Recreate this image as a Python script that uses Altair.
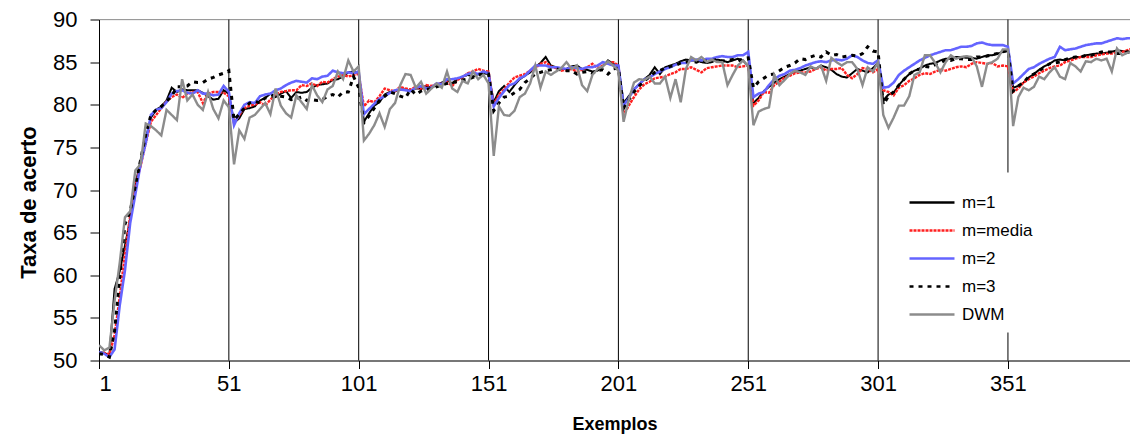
import altair as alt
import pandas as pd

# accuracy (%) sampled every second example: x = 1, 3, 5, ..., 399
x_vals = list(range(1, 400, 2))

m1 = [
    51.0, 50.9, 50.6, 58.4, 60.5, 63.5, 66.5, 70.5, 73.5, 76.0, 78.5, 79.4, 79.8, 80.5, 82.0, 81.5, 81.8, 81.7, 81.7, 81.7, 81.4, 81.0, 80.6, 80.7, 81.7,
    81.3, 77.9, 78.4, 79.5, 79.6, 79.8, 80.5, 80.8, 81.3, 80.9, 81.3, 81.6, 80.8, 81.5, 81.4, 81.5, 82.0, 82.3, 82.4, 82.5, 82.9, 83.0, 83.3, 83.8, 83.9,
    83.7, 78.0, 79.0, 79.9, 80.3, 81.2, 81.5, 81.6, 81.8, 81.8, 81.6, 81.9, 81.9, 82.2, 82.0, 82.3, 82.6, 82.9, 82.5, 83.0, 83.3, 83.5, 83.3, 83.6, 83.7,
    83.6, 80.3, 81.6, 82.2, 81.5, 82.3, 83.0, 83.4, 83.8, 84.4, 84.9, 85.6, 84.6, 84.4, 84.2, 84.2, 84.5, 84.6, 84.2, 84.1, 83.9, 84.0, 84.5, 85.2, 84.8,
    84.5, 80.2, 81.0, 81.8, 82.4, 83.0, 83.5, 84.4, 83.6, 84.4, 84.6, 84.8, 85.1, 85.3, 85.2, 85.2, 85.0, 84.9, 85.0, 85.3, 85.2, 85.0, 85.2, 85.4, 85.2,
    84.5, 80.2, 80.8, 81.6, 82.1, 82.6, 83.0, 83.3, 83.6, 83.9, 84.0, 84.2, 84.4, 84.2, 84.6, 84.4, 84.1, 83.6, 83.3, 83.2, 83.7, 84.2, 84.0, 83.8, 84.3,
    84.9, 80.5, 81.2, 81.4, 82.3, 83.0, 83.6, 84.0, 84.2, 84.6, 84.8, 84.9, 85.2, 85.4, 85.4, 85.6, 85.6, 85.5, 85.5, 85.4, 85.6, 85.8, 85.8, 86.0, 86.2,
    86.3, 82.0, 82.2, 82.6, 83.2, 83.6, 84.1, 84.5, 84.8, 85.2, 85.3, 85.2, 85.4, 85.6, 85.6, 85.8, 85.9, 86.0, 86.0, 86.1, 86.2, 86.4, 86.3, 86.2, 86.2,
]

m_media = [
    50.8, 50.9, 50.7, 53.0, 57.5, 62.5, 67.0, 70.5, 72.8, 75.5, 78.0, 78.8, 79.6, 80.4, 80.9, 81.2, 80.8, 81.3, 81.5, 81.5, 80.2, 81.3, 81.5, 81.5, 81.4,
    81.0, 77.8, 78.8, 79.6, 79.9, 80.0, 80.3, 79.9, 80.6, 81.2, 81.5, 81.6, 81.7, 81.7, 82.3, 82.2, 82.5, 82.2, 82.7, 82.6, 83.0, 83.3, 83.5, 83.3, 83.5,
    83.6, 79.8, 80.5, 80.3, 81.0, 81.9, 81.7, 81.6, 82.1, 81.9, 81.8, 82.1, 81.8, 82.3, 82.2, 82.4, 82.5, 82.7, 82.2, 82.9, 83.2, 83.7, 83.9, 84.2, 84.0,
    83.9, 80.0, 81.2, 81.8, 82.6, 83.2, 83.4, 83.6, 84.0, 84.3, 84.8, 85.0, 84.5, 84.3, 84.0, 84.1, 84.2, 83.9, 84.1, 84.4, 84.8, 84.3, 84.6, 85.0, 85.0,
    84.6, 78.8, 79.9, 80.9, 81.8, 82.4, 82.7, 83.1, 83.2, 83.3, 83.6, 83.8, 84.2, 84.2, 84.4, 84.1, 83.8, 84.3, 84.4, 84.5, 84.6, 84.6, 84.6, 84.4, 84.5,
    84.6, 79.9, 80.5, 81.5, 81.4, 82.3, 82.7, 83.2, 83.4, 83.7, 83.8, 83.8, 83.9, 84.2, 84.4, 84.0, 84.2, 84.2, 84.3, 83.5, 83.1, 83.6, 84.3, 84.2, 83.8,
    84.2, 81.7, 81.5, 81.1, 82.0, 82.3, 82.8, 83.1, 83.5, 83.7, 83.6, 83.9, 84.1, 84.0, 84.2, 84.4, 84.5, 84.4, 84.8, 85.0, 84.9, 84.8, 84.9, 84.5, 84.6,
    84.5, 81.5, 81.9, 82.6, 83.0, 83.3, 83.7, 84.0, 84.3, 84.5, 84.6, 85.0, 85.2, 85.4, 85.6, 85.6, 85.6, 85.8, 85.9, 86.0, 86.0, 86.1, 86.2, 86.4, 86.6,
]

m2 = [
    51.0, 50.8, 50.4, 51.3, 56.5, 60.6, 66.1, 69.5, 73.0, 75.5, 78.8, 79.4, 79.6, 80.3, 81.3, 81.6, 81.7, 81.4, 81.3, 81.7, 81.3, 81.3, 81.1, 81.2, 82.2,
    81.5, 77.6, 79.0, 80.0, 80.3, 80.2, 81.0, 81.2, 81.3, 81.7, 81.9, 82.3, 82.6, 82.8, 82.7, 82.6, 83.1, 83.0, 83.3, 83.4, 84.0, 83.8, 83.7, 83.8, 83.7,
    83.9, 78.9, 79.5, 80.1, 80.7, 81.0, 81.4, 81.7, 81.8, 81.7, 81.6, 82.0, 82.2, 81.9, 82.0, 82.5, 82.4, 83.0, 83.0, 83.1, 83.3, 83.6, 83.8, 83.6, 83.9,
    83.7, 79.8, 80.8, 81.6, 82.3, 82.5, 83.1, 83.4, 84.0, 84.6, 84.6, 84.6, 84.4, 84.4, 84.3, 84.2, 84.4, 84.3, 84.2, 84.4, 84.4, 84.6, 85.0, 84.8, 84.6,
    84.6, 79.9, 80.8, 81.8, 82.4, 83.0, 83.2, 83.6, 83.9, 84.2, 84.4, 84.7, 84.9, 84.9, 85.2, 85.3, 85.2, 85.4, 85.4, 85.6, 85.7, 85.6, 85.6, 85.8, 85.8,
    86.2, 80.9, 81.3, 81.5, 82.3, 83.0, 83.4, 83.6, 84.0, 84.1, 84.3, 84.6, 84.8, 85.0, 85.1, 85.0, 85.2, 85.3, 85.2, 85.4, 85.8, 85.6, 85.2, 84.9, 84.8,
    85.2, 82.0, 82.1, 82.6, 83.5, 84.0, 84.4, 84.8, 85.2, 85.5, 85.8, 86.0, 86.2, 86.4, 86.4, 86.6, 86.8, 86.8, 86.9, 87.2, 87.3, 87.1, 87.0, 87.0, 87.0,
    86.8, 82.5, 83.0, 83.6, 84.2, 84.4, 84.8, 85.1, 85.4, 85.6, 86.8, 86.4, 86.5, 86.6, 86.8, 87.0, 87.1, 87.2, 87.2, 87.4, 87.6, 87.8, 87.7, 87.8, 87.8,
]

m3 = [
    50.8, 50.7, 50.4, 53.5, 59.8, 66.0, 67.5, 70.5, 73.5, 76.5, 78.8, 79.4, 79.8, 80.4, 81.0, 82.1, 82.1, 82.2, 82.7, 82.6, 82.6, 83.0, 83.2, 83.5, 83.7,
    84.0, 78.2, 78.9, 79.6, 80.2, 80.4, 80.2, 80.8, 80.9, 81.1, 81.0, 80.9, 80.6, 80.7, 80.9, 80.5, 80.6, 80.5, 80.6, 81.0, 81.2, 80.9, 81.5, 81.5, 83.3,
    82.0, 77.9, 78.7, 79.6, 80.5, 81.0, 81.5, 81.3, 81.0, 80.8, 81.8, 81.2, 81.6, 81.8, 81.9, 82.1, 82.3, 82.5, 82.6, 82.7, 82.9, 83.0, 83.2, 83.5, 83.6,
    83.6, 79.3, 80.2, 80.9, 81.0, 81.4, 81.8, 82.6, 83.1, 83.6, 83.8, 84.0, 84.1, 84.2, 84.1, 84.0, 84.0, 83.6, 83.8, 83.9, 83.7, 84.0, 84.1, 83.6, 84.2,
    84.3, 79.6, 80.6, 81.5, 82.2, 82.8, 83.3, 83.8, 84.0, 84.3, 84.5, 84.6, 84.9, 85.0, 85.1, 85.0, 85.2, 85.1, 85.2, 85.3, 85.1, 85.2, 85.3, 85.1, 85.4,
    85.5, 82.0, 82.7, 83.1, 83.5, 83.6, 84.0, 84.4, 84.6, 84.9, 85.4, 85.3, 85.6, 85.8, 85.6, 86.2, 85.8, 85.9, 85.6, 85.7, 85.8, 85.7, 86.0, 86.8, 86.3,
    86.2, 80.0, 81.0, 81.5, 82.3, 83.0, 83.6, 84.0, 84.2, 84.5, 84.4, 84.7, 84.9, 85.3, 85.2, 85.4, 85.4, 85.3, 85.3, 85.6, 85.6, 85.7, 85.9, 86.0, 86.2,
    86.4, 81.6, 82.2, 82.6, 83.3, 83.6, 84.0, 84.4, 84.8, 84.9, 85.0, 85.3, 85.5, 85.6, 85.6, 85.8, 85.8, 86.0, 86.2, 86.2, 86.2, 86.0, 86.0, 86.2, 86.1,
]

dwm = [
    51.8, 51.2, 51.5, 57.0, 61.5, 66.8, 67.5, 72.3, 73.0, 77.8, 77.5, 77.0, 76.4, 79.4, 78.8, 78.2, 83.0, 80.5, 81.2, 80.0, 79.4, 81.5, 79.5, 78.4, 80.5,
    79.7, 73.0, 77.0, 76.0, 78.5, 78.8, 79.5, 80.2, 78.9, 81.9, 79.9, 79.0, 78.5, 81.1, 80.3, 79.5, 82.3, 81.1, 80.3, 81.8, 82.2, 83.9, 83.0, 85.2, 83.9,
    84.5, 75.8, 76.6, 77.6, 79.0, 77.4, 79.5, 80.2, 82.3, 83.6, 83.5, 82.0, 82.7, 81.3, 81.9, 82.5, 82.0, 83.9, 81.9, 81.5, 82.8, 82.5, 83.9, 83.0, 83.5,
    82.5, 74.0, 79.8, 78.8, 78.7, 79.3, 80.9, 81.3, 82.5, 84.6, 82.0, 83.9, 83.5, 83.9, 84.3, 85.0, 84.2, 84.6, 82.3, 81.6, 83.5, 84.2, 84.5, 85.1, 84.6,
    84.0, 78.0, 80.6, 82.6, 83.0, 82.9, 83.3, 82.5, 82.5, 83.3, 80.8, 83.0, 80.3, 84.2, 85.6, 85.2, 85.6, 85.0, 85.3, 85.0, 85.0, 82.3, 83.5, 84.6, 85.2,
    84.5, 77.6, 79.2, 79.5, 79.7, 83.5, 82.3, 82.9, 83.6, 84.0, 83.8, 83.5, 84.5, 84.2, 84.6, 82.8, 85.5, 85.0, 84.6, 85.0, 85.0, 84.2, 82.3, 84.4, 83.9,
    85.0, 78.8, 77.3, 78.5, 79.9, 79.9, 81.0, 83.5, 83.8, 85.8, 85.8, 84.9, 83.8, 85.0, 85.8, 85.4, 85.6, 85.7, 85.6, 84.5, 82.1, 84.8, 85.0, 85.4, 86.5,
    86.5, 77.5, 80.9, 82.0, 81.7, 82.1, 83.3, 83.0, 83.8, 84.4, 83.3, 83.0, 84.9, 84.5, 83.9, 85.1, 85.0, 85.4, 85.2, 85.4, 83.9, 86.6, 85.8, 86.1, 86.2,
]

series_names = ["m=1", "m=media", "m=2", "m=3", "DWM"]
series_values = [m1, m_media, m2, m3, dwm]
series_colors = ["#000000", "#ff2020", "#6464ff", "#000000", "#8c8c8c"]
series_dashes = [[1, 0], [3, 1], [1, 0], [4, 5], [1, 0]]
series_widths = [2, 2.4, 2.6, 3, 2.4]

# concept-drift boundaries and x tick labels
drift_points = [51, 101, 151, 201, 251, 301, 351]
x_ticks = [1, 51, 101, 151, 201, 251, 301, 351]
y_ticks = [50, 55, 60, 65, 70, 75, 80, 85, 90]

rows = []
for name, vals in zip(series_names, series_values):
    for xv, yv in zip(x_vals, vals):
        rows.append({"exemplo": xv, "taxa": yv, "serie": name})
df = pd.DataFrame(rows)

FONT = "Liberation Sans"
W, H = 1031, 341

x_scale = alt.Scale(domain=[1, 398], nice=False, zero=False)
y_scale = alt.Scale(domain=[50, 90], nice=False, zero=False)

x_axis = alt.Axis(
    values=x_ticks, title="Exemplos", grid=False,
    tickSize=8, tickColor="black", domainColor="black",
    labelFont=FONT, labelFontSize=22, labelColor="black", labelPadding=5,
    titleFont=FONT, titleFontSize=18, titleFontWeight="bold", titleColor="black",
    titleBaseline="middle", titleY=64, titleX=W / 2,
)
y_axis = alt.Axis(
    values=y_ticks, title="Taxa de acerto", grid=False,
    tickSize=9, tickColor="black", domainColor="black",
    labelFont=FONT, labelFontSize=22, labelColor="black", labelPadding=13,
    titleFont=FONT, titleFontSize=22, titleFontWeight="bold", titleColor="black",
    titleAngle=270, titleBaseline="middle", titleX=-71, titleY=H / 2 + 12,
)

# long horizontal stroke as legend swatch (wider than the nominal symbol size)
legend = alt.Legend(
    orient="none", legendX=803, legendY=153, title=None,
    symbolType="M-1.216,0H1.216", symbolSize=1369, symbolStrokeWidth=2.5,
    labelFont=FONT, labelFontSize=17, labelColor="black", labelOffset=10,
    rowPadding=0, padding=10, fillColor="white",
)

color_enc = alt.Color(
    "serie:N", scale=alt.Scale(domain=series_names, range=series_colors), legend=legend
)
dash_enc = alt.StrokeDash(
    "serie:N", scale=alt.Scale(domain=series_names, range=series_dashes), legend=legend
)

base = alt.Chart(df)
line_layers = []
for name, width in zip(series_names, series_widths):
    line_layers.append(
        base.transform_filter(alt.datum.serie == name)
        .mark_line(strokeWidth=width, clip=True)
        .encode(
            x=alt.X("exemplo:Q", scale=x_scale, axis=x_axis),
            y=alt.Y("taxa:Q", scale=y_scale, axis=y_axis),
            color=color_enc,
            strokeDash=dash_enc,
        )
    )

drift_rules = (
    alt.Chart(pd.DataFrame({"exemplo": drift_points}))
    .mark_rule(color="black", strokeWidth=1)
    .encode(x=alt.X("exemplo:Q", scale=x_scale, axis=x_axis))
)

top_border = (
    alt.Chart(pd.DataFrame({"taxa": [90]}))
    .mark_rule(color="#9a9a9a", strokeWidth=1)
    .encode(y=alt.Y("taxa:Q", scale=y_scale, axis=y_axis))
)

chart = (
    alt.layer(top_border, drift_rules, *line_layers)
    .properties(
        width=W, height=H,
        autosize=alt.AutoSizeParams(type="none"),
        padding={"left": 99, "top": 19.5, "right": 0, "bottom": 77.5},
    )
    .configure_view(stroke=None)
    .configure(background="white")
)

chart.save("out.html", embed_options={"renderer": "svg", "actions": False})
